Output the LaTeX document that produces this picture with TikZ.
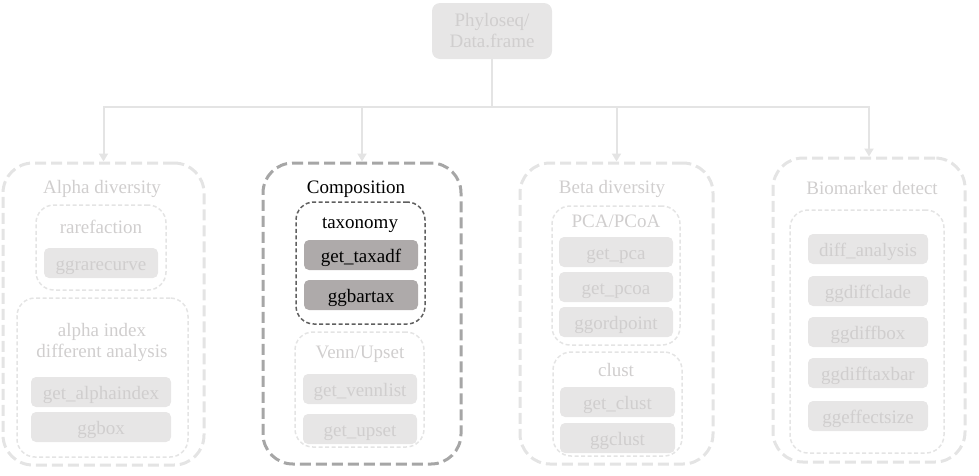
\documentclass[tikz,border=0pt]{standalone}
\usepackage{fontspec}
\setmainfont{Liberation Serif}
\usepackage{tikz}
\usetikzlibrary{arrows.meta,positioning}
\definecolor{lightfill}{HTML}{E7E6E6}
\definecolor{lighttext}{HTML}{D0CECE}
\definecolor{lightline}{HTML}{E4E4E4}
\definecolor{darkfill}{HTML}{AEAAAA}
\definecolor{midline}{HTML}{A6A6A6}
\definecolor{darkline}{HTML}{5F5F5F}
\newcommand{\fsz}{\fontsize{19}{21}\selectfont}
\tikzset{
  fn/.style={
    fill=lightfill,
    text=lighttext,
    rounded corners=5pt,
    inner sep=0pt,
    minimum width=114pt,
    minimum height=30pt,
    text height=15pt,
    text depth=1pt,
    font=\fsz},
  fnon/.style={
    fn,
    fill=darkfill,
    text=black},
  title/.style={
    text=lighttext,
    inner sep=0pt,
    align=center,
    font=\fsz},
  onetitle/.style={
    title,
    text height=15pt,
    text depth=1pt},
  outer/.style={
    draw=lightline,
    line width=3pt,
    dash pattern=on 11pt off 5pt,
    rounded corners=30pt,
    inner sep=0pt},
  inner/.style={
    draw=lightline,
    line width=1.5pt,
    dash pattern=on 4pt off 2.5pt,
    rounded corners=18pt,
    inner sep=0pt},
  link/.style={
    draw=lightline,
    line width=2pt},
  arr/.style={
    link,
    -{Triangle[width=9pt,length=8pt]}}
  }

\begin{document}
\begin{tikzpicture}[x=1pt,y=-1pt]
      \useasboundingbox (0,0) rectangle (979,475);
      \node[fn, minimum width=120pt, minimum height=56pt, text height=, text depth=, align=center, rounded corners=8pt] (root) at (492,31) {Phyloseq/\\Data.frame};
      \coordinate (bus) at (492,107);

      \node[outer, minimum width=201pt, minimum height=302pt] (alpha) at (103.5,314) {};
      \node[onetitle] (alphat) at (102,186) {Alpha diversity};
      \node[inner, minimum width=130pt, minimum height=85pt] (rare) at (101,247.5) {};
      \node[onetitle] (raret) at (101,226) {rarefaction};
      \node[fn] (ggrarecurve) at (101,263) {ggrarecurve};
      \node[inner, minimum width=171pt, minimum height=159pt] (aidx) at (102.5,377.5) {};
      \node[title] (aidxt) at (102,342) {alpha index\\different analysis};
      \node[fn, minimum width=140pt] (getalphaindex) at (101,392) {get\_alphaindex};
      \node[fn, minimum width=140pt] (ggbox) at (101,427) {ggbox};

      \node[outer, draw=midline, minimum width=198pt, minimum height=301pt] (comp) at (362,313.5) {};
      \node[onetitle, text=black] (compt) at (356,186) {Composition};
      \node[inner, draw=darkline, minimum width=129pt, minimum height=122pt] (taxo) at (360.5,263) {};
      \node[onetitle, text=black] (taxot) at (360,221) {taxonomy};
      \node[fnon] (gettaxadf) at (361,255) {get\_taxadf};
      \node[fnon] (ggbartax) at (361,295) {ggbartax};
      \node[inner, minimum width=129pt, minimum height=115pt] (venn) at (359.5,389.5) {};
      \node[onetitle] (vennt) at (360,351) {Venn/Upset};
      \node[fn] (getvennlist) at (360,389) {get\_vennlist};
      \node[fn] (getupset) at (360,429) {get\_upset};

      \node[outer, minimum width=193pt, minimum height=301pt] (beta) at (616.5,313.5) {};
      \node[onetitle] (betat) at (612,186) {Beta diversity};
      \node[inner, minimum width=128pt, minimum height=139pt] (ord) at (616,275.5) {};
      \node[onetitle] (ordt) at (616,220) {PCA/PCoA};
      \node[fn] (getpca) at (616,252) {get\_pca};
      \node[fn] (getpcoa) at (616,287) {get\_pcoa};
      \node[fn] (ggordpoint) at (616,322) {ggordpoint};
      \node[inner, minimum width=129pt, minimum height=104pt] (clust) at (617.5,404) {};
      \node[onetitle] (clustt) at (616,369) {clust};
      \node[fn, minimum width=115pt] (getclust) at (617.5,402) {get\_clust};
      \node[fn, minimum width=115pt] (ggclust) at (617.5,438) {ggclust};

      \node[outer, minimum width=192pt, minimum height=304pt] (bio) at (869,310) {};
      \node[onetitle] (biot) at (872,187) {Biomarker detect};
      \node[inner, minimum width=154pt, minimum height=243pt] (diff) at (867,331.5) {};
      \node[fn, minimum width=120pt] (diffanalysis) at (868,249) {diff\_analysis};
      \node[fn, minimum width=120pt] (ggdiffclade) at (868,291) {ggdiffclade};
      \node[fn, minimum width=120pt] (ggdiffbox) at (868,332) {ggdiffbox};
      \node[fn, minimum width=120pt] (ggdifftaxbar) at (868,373) {ggdifftaxbar};
      \node[fn, minimum width=120pt] (ggeffectsize) at (868,416) {ggeffectsize};

      \draw [link] (root) -- (bus);
      \draw [arr] (bus) -| (alpha.north);
      \draw [arr] (bus) -| (comp.north);
      \draw [arr] (bus) -| (beta.north);
      \draw [arr] (bus) -| (bio.north);
    \end{tikzpicture}
\end{document}
